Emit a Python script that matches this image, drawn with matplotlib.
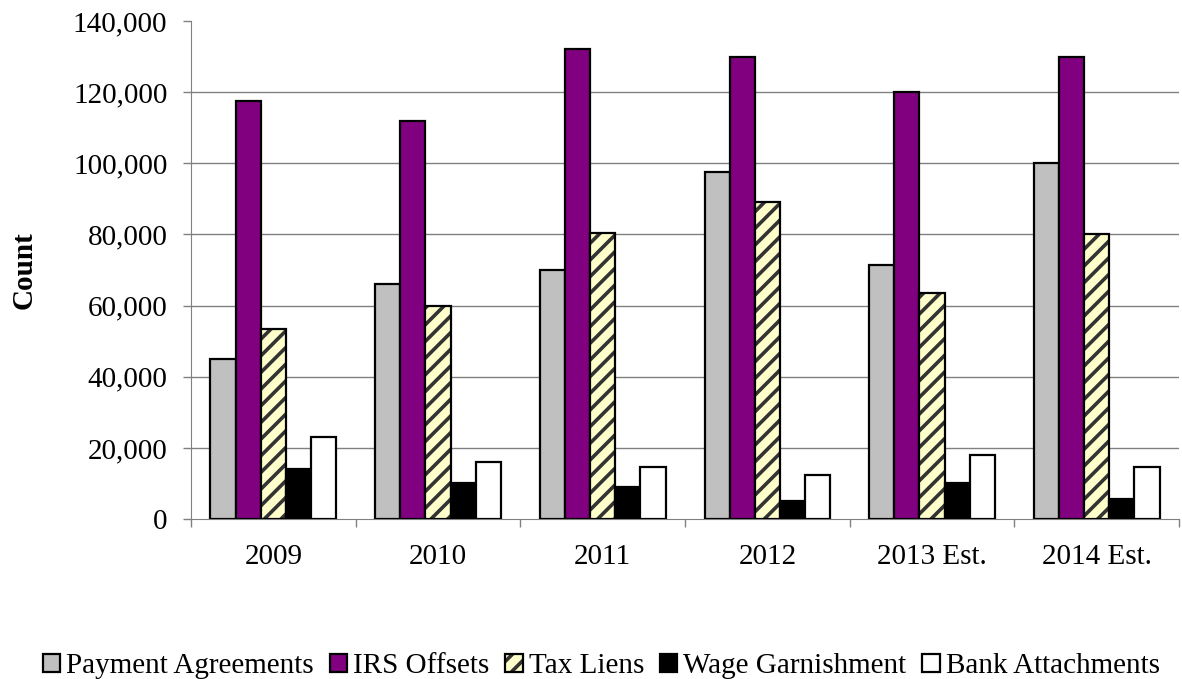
import numpy as np
import matplotlib
matplotlib.use("Agg")
import matplotlib.pyplot as plt
from matplotlib.legend_handler import HandlerTuple

plt.rcParams['font.family'] = ['Liberation Serif', 'DejaVu Serif']
plt.rcParams['hatch.linewidth'] = 2.6

# Data
years = ['2009', '2010', '2011', '2012', '2013 Est.', '2014 Est.']
payment_agreements = [45000, 66000, 70000, 97500, 71500, 100000]
irs_offsets        = [117500, 112000, 132000, 130000, 120000, 130000]
tax_liens          = [53500, 60000, 80500, 89000, 63500, 80000]
wage_garnishment   = [14000, 10000, 9000, 5000, 10000, 5500]
bank_attachments   = [23000, 16000, 14500, 12500, 18000, 14500]

series = [payment_agreements, irs_offsets, tax_liens, wage_garnishment, bank_attachments]
labels = ['Payment Agreements', 'IRS Offsets', 'Tax Liens', 'Wage Garnishment', 'Bank Attachments']
colors = ['#C0C0C0', '#800080', '#FFFFCC', '#000000', '#FFFFFF']

fig = plt.figure(figsize=(11.82, 6.79), dpi=100)
ax = fig.add_axes([0.1616, 0.2356, 0.8359, 0.7335])

x = np.arange(len(years))
w = 0.1527
handles = []
for k, (vals, lab, col) in enumerate(zip(series, labels, colors)):
    pos = x + (k - 2) * w
    if lab == 'Tax Liens':
        # hatch drawn in dark grey, then a black outline on top
        h1 = ax.bar(pos, vals, w, color=col, edgecolor='#333333', hatch='//', linewidth=0, zorder=3)
        h2 = ax.bar(pos, vals, w, fill=False, edgecolor='black', linewidth=1.6, zorder=4)
        handles.append((h1, h2))
    else:
        h = ax.bar(pos, vals, w, color=col, edgecolor='black', linewidth=1.6, zorder=3)
        handles.append(h)

ax.set_xlim(-0.5, len(years) - 0.5)
ax.set_ylim(0, 140000)
ax.set_yticks(np.arange(0, 140001, 20000))
ax.set_yticklabels([f'{v:,}' for v in range(0, 140001, 20000)])
ax.set_xticks(x)
ax.set_xticklabels(years)
ax.set_xticks(np.arange(-0.5, len(years)), minor=True)

ax.tick_params(axis='y', direction='out', length=6, width=1, color='#808080', labelsize=21, pad=11)
ax.tick_params(axis='x', which='major', length=0, labelsize=21, pad=18)
ax.tick_params(axis='x', which='minor', direction='out', length=6, width=1, color='#808080')

for y in range(20000, 140000, 20000):
    ax.axhline(y, color='#808080', lw=1, zorder=1)

for s in ['top', 'right']:
    ax.spines[s].set_visible(False)
ax.spines['left'].set_color('#808080')
ax.spines['bottom'].set_color('#808080')

ax.set_ylabel('Count', fontsize=21, fontweight='bold')
ax.yaxis.set_label_coords(-0.155, 0.5)

fig.legend(handles, labels, loc='center left', bbox_to_anchor=(0.036, 0.019),
           ncol=5, frameon=False, fontsize=21, borderpad=0, borderaxespad=0,
           handlelength=0.6, handleheight=0.6, handletextpad=0.2, columnspacing=0.55,
           handler_map={tuple: HandlerTuple(ndivide=1)})

fig.savefig('out.png', dpi=100)
